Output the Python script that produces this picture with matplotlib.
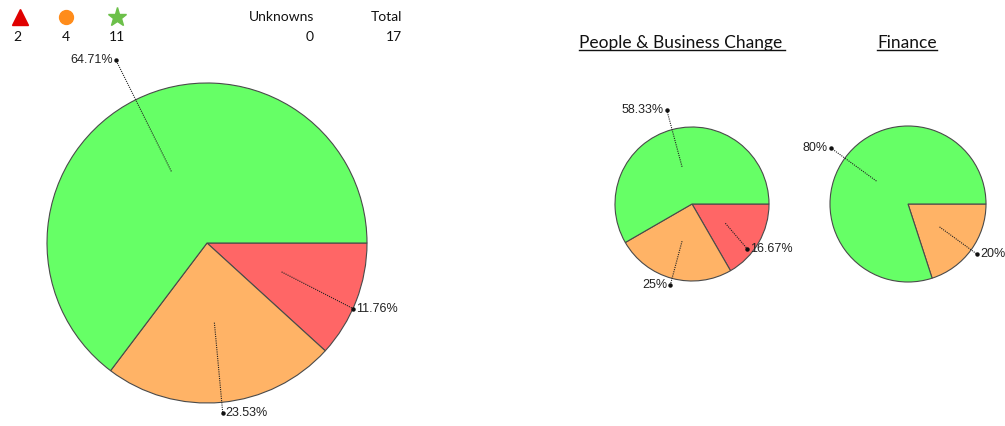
import matplotlib.pyplot as plt
import numpy as np

W, H = 1005, 426

# ---- data ----
status_names = ['Red', 'Amber', 'Green']
overall_counts = [2, 4, 11]
unknown_count = 0
total_count = 17
chart_titles = ['People & Business Change', 'Finance']
pbc_counts = [2, 3, 7]
finance_counts = [0, 1, 4]

# ---- styles ----
slice_colors = ['#ff6666', '#ffb366', '#66ff66']
edge_color = '#4a4a4a'
label_font = ['Liberation Sans', 'DejaVu Sans']
head_font = ['Lato', 'DejaVu Sans']

fig = plt.figure(figsize=(W / 100, H / 100), dpi=100)
ax = fig.add_axes([0, 0, 1, 1])


def fmt(p):
    s = f"{p:.2f}".rstrip('0').rstrip('.')
    return s + '%'


def draw_pie(cx, cy, R, counts, outer, shift):
    cyy = H - cy
    wedges, _ = ax.pie(counts, colors=slice_colors, startangle=0,
                       counterclock=False, center=(cx, cyy), radius=R,
                       wedgeprops=dict(edgecolor=edge_color, linewidth=0.8))
    tot = sum(counts)
    for w, c, of, sh in zip(wedges, counts, outer, shift):
        if c == 0:
            continue
        th = np.deg2rad((w.theta1 + w.theta2) / 2)
        th2 = th + np.deg2rad(sh)
        x0, y0 = cx + 0.5 * R * np.cos(th), cyy + 0.5 * R * np.sin(th)
        x1, y1 = cx + of * R * np.cos(th2), cyy + of * R * np.sin(th2)
        ax.plot([x0, x1], [y0, y1], color='#222222', lw=0.8, ls=(0, (1, 1)))
        ax.plot([x1], [y1], marker='o', ms=2.2, color='#111111')
        right = np.cos(th) > 0
        ax.text(x1 + (3 if right else -3), y1, fmt(100 * c / tot),
                ha='left' if right else 'right', va='center',
                fontsize=9, family=label_font, color='#222222')


draw_pie(207, 243, 160, overall_counts, [1.0, 1.07, 1.28], [-3, 0, 0])
draw_pie(692, 204, 77, pbc_counts, [0.92, 1.09, 1.26], [-9, 0, 0])
draw_pie(908, 204, 78, finance_counts, [1.0, 1.1, 1.22], [0, 0, 0])

# ---- summary header ----
marker_specs = [('^', '#e00000', 11), ('o', '#ff8c1a', 10), ('*', '#6cc04a', 14)]
marker_x = [20, 66, 117]
for (m, col, ms), x, n in zip(marker_specs, marker_x, overall_counts):
    ax.plot([x], [H - 17], marker=m, color=col, ms=ms, mec=col)
    ax.text(x - 3 if x == 20 else x, H - 37, str(n), ha='center', va='center',
            fontsize=10, family=head_font, color='#111111')
ax.text(314, H - 17, 'Unknowns', ha='right', va='center', fontsize=10,
        family=head_font, color='#111111')
ax.text(314, H - 37, str(unknown_count), ha='right', va='center', fontsize=10,
        family=head_font, color='#111111')
ax.text(402, H - 17, 'Total', ha='right', va='center', fontsize=10,
        family=head_font, color='#111111')
ax.text(402, H - 37, str(total_count), ha='right', va='center', fontsize=10,
        family=head_font, color='#111111')

# ---- chart titles ----
titles = []
titles.append((ax.text(579, H - 43, chart_titles[0], ha='left', va='center',
                       fontsize=12.5, family=head_font, color='#111111'), 3))
titles.append((ax.text(877, H - 43, chart_titles[1], ha='left', va='center',
                       fontsize=12.5, family=head_font, color='#111111'), 0))

ax.set_xlim(0, W)
ax.set_ylim(0, H)
ax.set_aspect('auto')
ax.axis('off')

fig.canvas.draw()
for t, extra in titles:
    bb = t.get_window_extent()
    ax.plot([bb.x0, bb.x1 + extra], [bb.y0 + 1, bb.y0 + 1], color='#111111', lw=1)

ax.set_xlim(0, W)
ax.set_ylim(0, H)
fig.savefig('out.png', dpi=100, facecolor='white')
